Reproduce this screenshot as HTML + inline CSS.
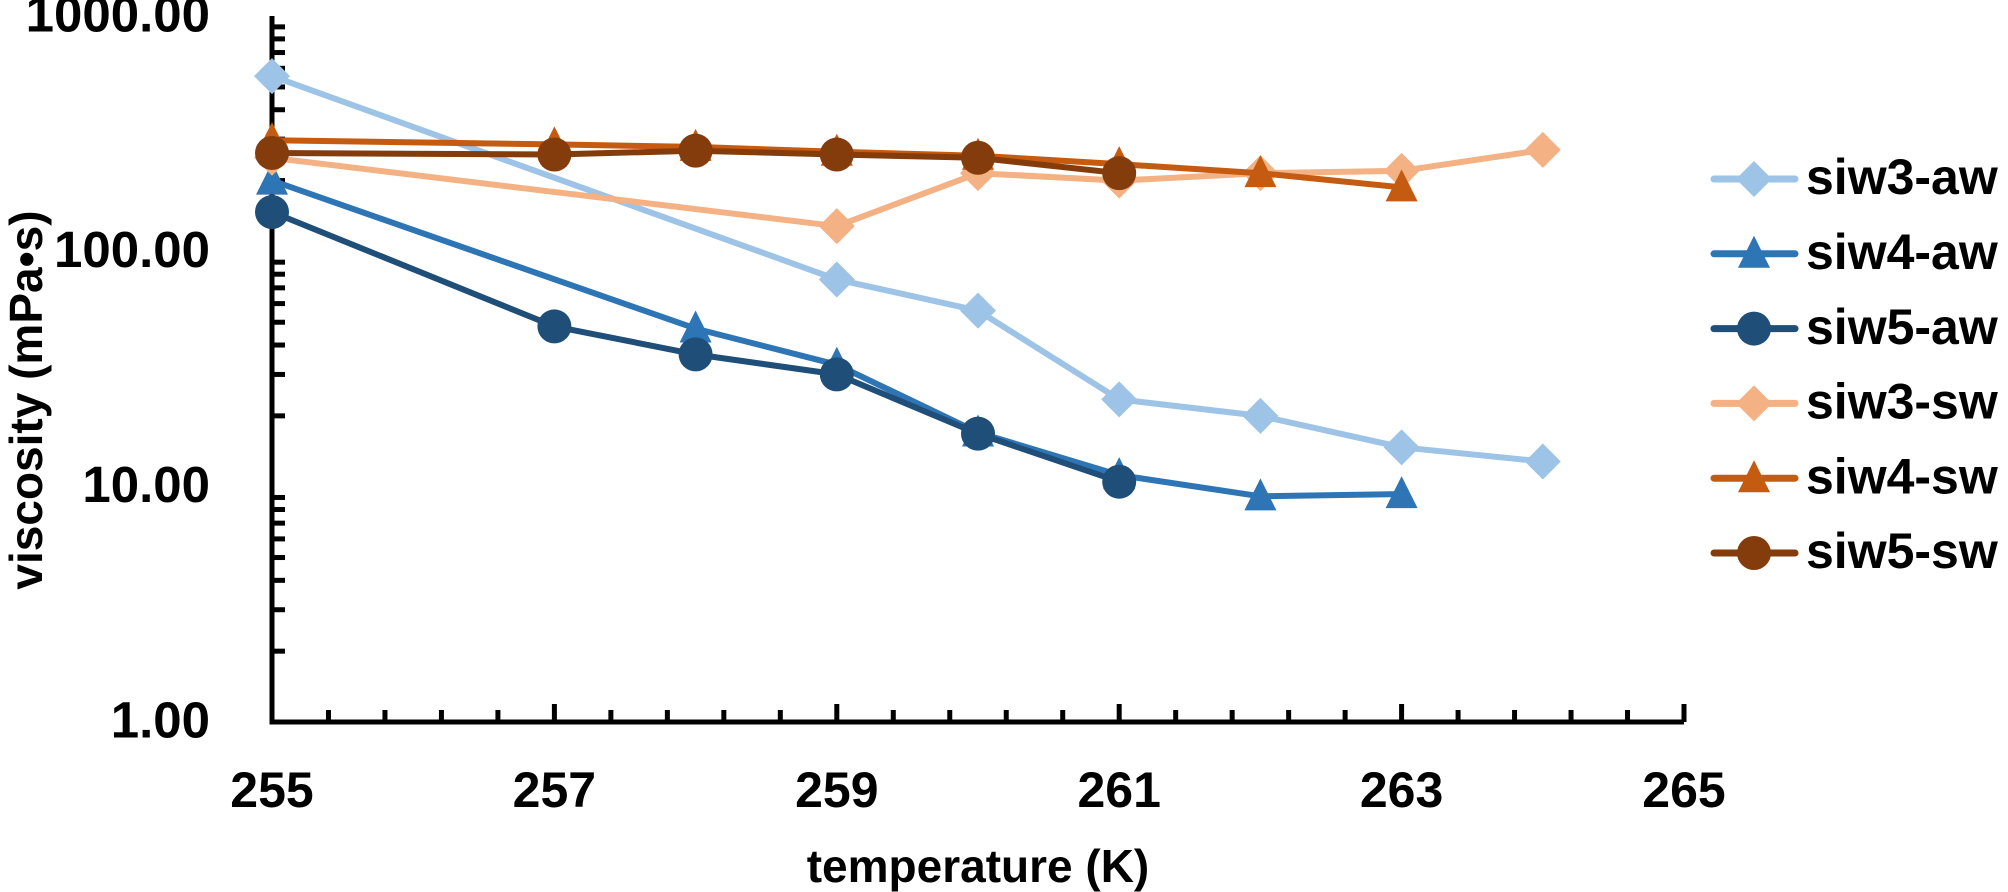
<!DOCTYPE html>
<html><head><meta charset="utf-8"><style>
html,body{margin:0;padding:0;background:#fff;}
svg{display:block;}
text{font-family:"Liberation Sans",sans-serif;font-weight:bold;fill:#000;}
</style></head><body>
<svg id="c" width="2008" height="892" viewBox="0 0 2008 892" xmlns="http://www.w3.org/2000/svg">
<g id="axes" stroke="#000" stroke-width="5" fill="none"></g>
<g id="lbl"></g>
<g id="ser"></g>
<g id="leg"></g>
<text x="30" y="400" font-size="46" text-anchor="middle" dominant-baseline="middle" transform="rotate(-90 30 400)">viscosity (mPa•s)</text>
<text x="978" y="870" font-size="46" text-anchor="middle" dominant-baseline="middle">temperature (K)</text>
</svg>
<script>
var NS="http://www.w3.org/2000/svg";
var X0=272,U=141.2,Y1=722,D=235.3;
function X(t){return X0+U*(t-255);}
function Y(v){return Y1-D*Math.log10(v);}
function el(p,n,a,txt){var e=document.createElementNS(NS,n);for(var k in a)e.setAttribute(k,a[k]);if(txt!==undefined)e.textContent=txt;p.appendChild(e);return e;}
var ax=document.getElementById('axes'),lb=document.getElementById('lbl');
el(ax,'path',{d:'M'+X0+' 16 L'+X0+' '+Y1+' L'+X(265)+' '+Y1});
for(var dec=0;dec<3;dec++){for(var m=1;m<=10;m++){var v=Math.pow(10,dec)*m;var y=Y(v);var L=(m==1||m==10)?0:13;if(L)el(ax,'line',{x1:X0,y1:y,x2:X0+L,y2:y});}}
['1.00','10.00','100.00','1000.00'].forEach(function(s,i){el(lb,'text',{x:210,y:Y(Math.pow(10,i))+2,'font-size':51,'text-anchor':'end','dominant-baseline':'middle'},s);});
for(var i=1;i<=25;i++){var t=255+i*0.4;var maj=(i%5==0);el(ax,'line',{x1:X(t),y1:Y1,x2:X(t),y2:Y1-(maj?18:12)});}
[255,257,259,261,263,265].forEach(function(t){el(lb,'text',{x:X(t),y:794,'font-size':50,'text-anchor':'middle','dominant-baseline':'middle'},String(t));});
var S=[
 ['siw3-aw','#9DC3E6','d',[[255,556],[259,76],[260,56],[261,23.5],[262,20],[263,14.7],[264,12.8]]],
 ['siw4-aw','#2E75B6','t',[[255,200],[258,47],[259,33],[260,17],[261,11.2],[262,9.1],[263,9.3]]],
 ['siw5-aw','#1F4E79','c',[[255,147],[257,48],[258,36.5],[259,30],[260,16.8],[261,10.5]]],
 ['siw3-sw','#F4B183','d',[[255,250],[259,128],[260,215],[261,200],[262,215],[263,220],[264,270]]],
 ['siw4-sw','#C55A11','t',[[255,297],[257,285],[258,278],[259,265],[260,255],[261,235],[262,215],[263,187]]],
 ['siw5-sw','#843C0C','c',[[255,262],[257,258],[258,268],[259,258],[260,250],[261,215]]]
];
function mk(g,type,x,y,col){
 if(type=='d')el(g,'path',{d:'M'+(x-18)+' '+y+' L'+x+' '+(y-18)+' L'+(x+18)+' '+y+' L'+x+' '+(y+18)+'Z',fill:col});
 else if(type=='t')el(g,'path',{d:'M'+(x-16)+' '+(y+14)+' L'+x+' '+(y-18)+' L'+(x+16)+' '+(y+14)+'Z',fill:col});
 else el(g,'circle',{cx:x,cy:y,r:17,fill:col});
}
var sg=document.getElementById('ser'),lg=document.getElementById('leg');
S.forEach(function(s,k){
 var g=el(sg,'g',{});
 var d=s[3].map(function(p,i){return (i?'L':'M')+X(p[0]).toFixed(1)+' '+Y(p[1]).toFixed(1);}).join(' ');
 el(g,'path',{d:d,stroke:s[1],'stroke-width':6,fill:'none','stroke-linejoin':'round'});
 s[3].forEach(function(p){mk(g,s[2],X(p[0]),Y(p[1]),s[1]);});
 var ly=179+74.8*k;
 el(lg,'line',{x1:1714,y1:ly,x2:1795,y2:ly,stroke:s[1],'stroke-width':7,'stroke-linecap':'round'});
 mk(lg,s[2],1754,ly,s[1]);
 el(lg,'text',{x:1806,y:ly+2,'font-size':50,'dominant-baseline':'middle'},s[0]);
});
</script>
</body></html>
